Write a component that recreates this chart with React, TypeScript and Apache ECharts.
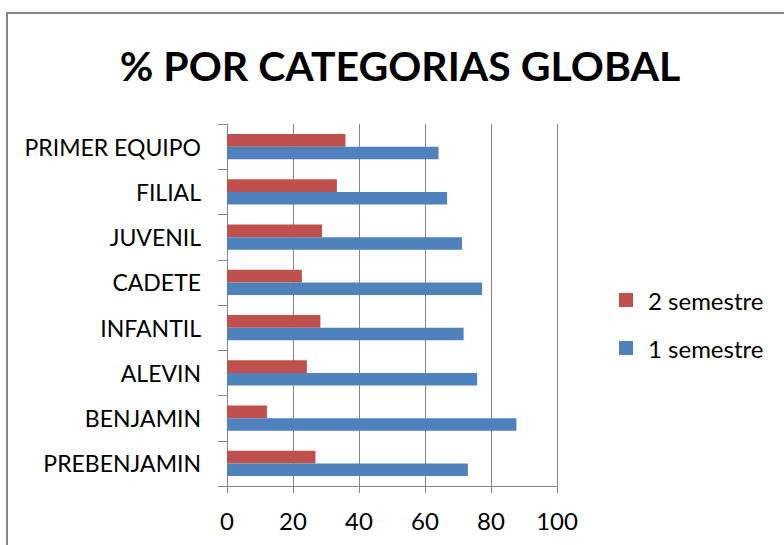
import React, { useEffect, useRef } from "react";
import * as echarts from "echarts";

const categories = ["PREBENJAMIN", "BENJAMIN", "ALEVIN", "INFANTIL", "CADETE", "JUVENIL", "FILIAL", "PRIMER EQUIPO"];
const semestre1 = [73.0, 87.7, 75.8, 71.7, 77.3, 71.2, 66.7, 64.1];
const semestre2 = [26.8, 12.1, 24.2, 28.3, 22.7, 28.8, 33.3, 35.9];
const xTicks = { min: 0, max: 100, interval: 20 };
const titleText = "% POR CATEGORIAS GLOBAL";
const seriesNames = ["1 semestre", "2 semestre"];

const FONT = "Lato, Calibri, 'Open Sans', sans-serif";

export default function App() {
  const ref = useRef<HTMLDivElement>(null);
  useEffect(() => {
    if (!ref.current) return;
    const chart = echarts.init(ref.current, undefined, { renderer: "svg" });
    chart.setOption({
      animation: false,
      backgroundColor: "#ffffff",
      graphic: [
        {
          type: "rect",
          shape: { x: 7, y: 13, width: 800, height: 600 },
          style: { fill: "none", stroke: "#868686", lineWidth: 2 },
          silent: true,
        },
        {
          type: "text",
          x: 400,
          y: 65,
          style: {
            text: titleText,
            fontSize: 41,
            fontWeight: "bold",
            fontFamily: FONT,
            fill: "#000000",
            align: "center",
            verticalAlign: "middle",
          },
        },
      ],
      legend: {
        orient: "vertical",
        left: 619,
        top: 288,
        padding: 0,
        itemWidth: 14,
        itemHeight: 14,
        itemGap: 24,
        icon: "rect",
        data: [seriesNames[1], seriesNames[0]],
        textStyle: { fontSize: 24, fontFamily: FONT, color: "#000", padding: [0, 0, 0, 10] },
      },
      grid: { left: 227, right: 227, top: 124, bottom: 59, containLabel: false },
      xAxis: {
        type: "value",
        min: xTicks.min,
        max: xTicks.max,
        interval: xTicks.interval,
        axisLine: { show: true, lineStyle: { color: "#868686", width: 1 } },
        axisTick: { show: true, length: 7, lineStyle: { color: "#868686" } },
        splitLine: { show: true, lineStyle: { color: "#868686", width: 1 } },
        axisLabel: { fontSize: 24, fontFamily: FONT, color: "#000", margin: 22 },
      },
      yAxis: {
        type: "category",
        data: categories,
        axisLine: { show: true, lineStyle: { color: "#868686", width: 1 } },
        axisTick: { show: true, length: 9, lineStyle: { color: "#868686" } },
        axisLabel: { fontSize: 23, fontFamily: FONT, color: "#000", margin: 26 },
      },
      series: [
        {
          name: seriesNames[1],
          type: "bar",
          data: semestre2,
          itemStyle: { color: "#C0504D" },
          barGap: "0%",
          barCategoryGap: "44%",
        },
        {
          name: seriesNames[0],
          type: "bar",
          data: semestre1,
          itemStyle: { color: "#4F81BD" },
          barGap: "0%",
          barCategoryGap: "44%",
        },
      ],
    });
    return () => chart.dispose();
  }, []);
  return (
    <div
      ref={ref}
      style={{ position: "absolute", left: 0, top: 0, width: 784, height: 545 }}
    />
  );
}
